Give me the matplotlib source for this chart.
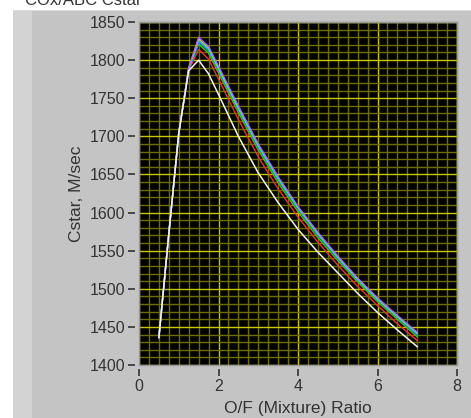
import matplotlib.pyplot as plt
from matplotlib import ticker
from matplotlib.patches import Rectangle

# O/F ratio samples
of_ratio = [0.5, 0.75, 1.0, 1.25, 1.5, 1.75, 2.0, 2.5, 3.0, 3.5, 4.0, 4.5, 5.0, 5.5, 6.0, 6.5, 7.0]

# Cstar (m/s) per run
cstar_purple = [1436, 1572, 1704, 1790, 1830, 1818, 1792, 1740, 1690, 1647, 1608, 1574, 1543, 1514, 1488, 1465, 1443]
cstar_yellow = [1436, 1572, 1704, 1789, 1828, 1816, 1790, 1738, 1689, 1646, 1607, 1573, 1542, 1513, 1487, 1464, 1442]
cstar_cyan = [1436, 1572, 1704, 1789, 1826, 1814, 1788, 1736, 1687, 1644, 1606, 1572, 1541, 1512, 1486, 1463, 1441]
cstar_blue = [1436, 1572, 1704, 1788, 1824, 1812, 1786, 1734, 1685, 1642, 1604, 1570, 1539, 1511, 1485, 1462, 1439]
cstar_green = [1436, 1572, 1704, 1788, 1821, 1809, 1783, 1731, 1682, 1639, 1601, 1567, 1537, 1509, 1483, 1460, 1437]
cstar_red = [1436, 1572, 1704, 1787, 1814, 1801, 1775, 1722, 1673, 1631, 1594, 1561, 1531, 1503, 1478, 1454, 1432]
cstar_white = [1436, 1572, 1704, 1786, 1800, 1782, 1755, 1700, 1652, 1613, 1578, 1548, 1521, 1494, 1469, 1446, 1424]

x_ticks = [0, 2, 4, 6, 8]
y_ticks = [1400, 1450, 1500, 1550, 1600, 1650, 1700, 1750, 1800, 1850]

W, H = 471, 418
fig = plt.figure(figsize=(W / 100, H / 100), dpi=100)
fig.patch.set_facecolor('white')

# panel background (LabVIEW-like gray)
fig.patches.append(Rectangle((13 / W, 0), 1 - 13 / W, (H - 10) / H, transform=fig.transFigure,
                             facecolor='#c4c4c4', edgecolor='none', zorder=-10))
fig.patches.append(Rectangle((13 / W, 0), 19 / W, (H - 10) / H, transform=fig.transFigure,
                             facecolor='#d3d3d3', edgecolor='none', zorder=-9))
fig.patches.append(Rectangle((13 / W, (H - 11) / H), 1 - 13 / W, 1.5 / H, transform=fig.transFigure,
                             facecolor='#dcdcdc', edgecolor='none', zorder=-8))

fig.text(25 / W, (H - 5) / H, 'COx/ABC Cstar', fontsize=12, color='#333333',
         family='Liberation Sans', va='baseline', ha='left')

ax = fig.add_axes([139 / W, 53 / H, 318 / W, 343 / H])
ax.set_facecolor('black')

series = [
    (cstar_white, '#f4f4f4'),
    (cstar_red, '#ff2a2a'),
    (cstar_green, '#10e010'),
    (cstar_blue, '#3a78e0'),
    (cstar_cyan, '#20c0d0'),
    (cstar_yellow, '#c8c860'),
    (cstar_purple, '#b060ff'),
]
for ys, c in series[1:]:
    ax.plot(of_ratio, ys, color=c, lw=1.0, zorder=3)
# white run drawn last so it sits on top at the low O/F end
ax.plot(of_ratio, series[0][0], color=series[0][1], lw=1.1, zorder=4)

ax.set_xlim(0, 8)
ax.set_ylim(1400, 1850)
ax.xaxis.set_major_locator(ticker.FixedLocator(x_ticks))
ax.yaxis.set_major_locator(ticker.FixedLocator(y_ticks))
ax.xaxis.set_minor_locator(ticker.MultipleLocator(0.25))
ax.yaxis.set_minor_locator(ticker.MultipleLocator(10))

ax.grid(True, which='minor', color='#6e6e00', lw=1.0, zorder=1)
ax.grid(True, which='major', color='#c8c800', lw=1.0, zorder=2)
ax.set_axisbelow(True)

for s in ['left', 'bottom']:
    ax.spines[s].set_position(('outward', 3))
    ax.spines[s].set_visible(False)
for s in ['top', 'right']:
    ax.spines[s].set_color('#9a9a9a')
    ax.spines[s].set_linewidth(1.0)
# border around the black plot area
ax.add_patch(Rectangle((0, 0), 1, 1, transform=ax.transAxes, fill=False,
                       edgecolor='#9a9a9a', lw=1.0, clip_on=False, zorder=5))

ax.tick_params(which='minor', length=0)
ax.tick_params(which='major', direction='out', length=5, width=1.2, color='#333333',
               labelsize=11.5, labelcolor='#333333', pad=2)
for lab in ax.get_xticklabels() + ax.get_yticklabels():
    lab.set_family('Liberation Sans')

ax.set_xlabel('O/F (Mixture) Ratio', fontsize=12.5, color='#333333', family='Liberation Sans', labelpad=5)
ax.set_ylabel('Cstar, M/sec', fontsize=12.5, color='#333333', family='Liberation Sans', labelpad=4)

fig.savefig('out.png', dpi=100)
